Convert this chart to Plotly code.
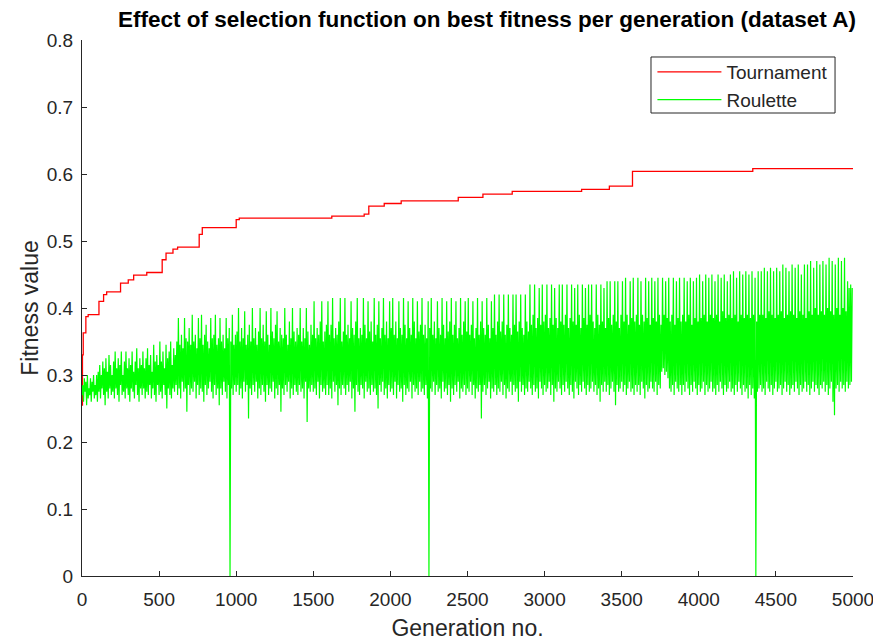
import plotly.graph_objects as go

# ---------------- data ----------------
tournament_gen = [0, 3, 8, 25, 40, 110, 140, 160, 250, 300, 335, 420, 520, 545, 590, 620,
                  760, 780, 1000, 1020, 1620, 1830, 1860, 1960, 2070, 2440, 2600, 2790,
                  3240, 3420, 3570, 4350, 5000]
tournament_fit = [0.255, 0.33, 0.363, 0.387, 0.39, 0.41, 0.42, 0.424, 0.437, 0.442, 0.449,
                  0.453, 0.472, 0.482, 0.488, 0.491, 0.51, 0.52, 0.532, 0.534, 0.537, 0.54,
                  0.552, 0.556, 0.56, 0.565, 0.57, 0.574, 0.577, 0.582, 0.604, 0.608, 0.608]

roulette_step = 5  # one sample every 5 generations
roulette_fit = [
    0.27,0.285,0.26,0.295,0.275,0.29,0.255,0.30,0.265,0.28,0.27,0.295,0.26,0.29,0.275,0.30,0.265,0.285,0.27,0.30,
    0.26,0.305,0.275,0.315,0.265,0.30,0.28,0.32,0.27,0.31,0.255,0.325,0.275,0.305,0.265,0.33,0.28,0.315,0.27,0.30,
    0.275,0.32,0.265,0.335,0.28,0.31,0.27,0.325,0.26,0.315,0.285,0.335,0.27,0.30,0.275,0.32,0.265,0.335,0.28,0.31,
    0.27,0.325,0.26,0.315,0.28,0.335,0.275,0.305,0.265,0.32,0.285,0.34,0.27,0.31,0.26,0.325,0.28,0.315,0.27,0.335,
    0.28,0.31,0.265,0.325,0.275,0.34,0.27,0.315,0.285,0.33,0.265,0.305,0.28,0.345,0.27,0.32,0.26,0.33,0.285,0.315,
    0.27,0.35,0.275,0.32,0.265,0.335,0.285,0.31,0.27,0.345,0.25,0.325,0.28,0.335,0.27,0.35,0.265,0.315,0.28,0.34,
    0.275,0.33,0.285,0.35,0.27,0.385,0.28,0.345,0.265,0.36,0.29,0.34,0.275,0.385,0.28,0.355,0.245,0.35,0.285,0.37,
    0.27,0.345,0.28,0.39,0.275,0.35,0.29,0.36,0.265,0.34,0.285,0.385,0.27,0.355,0.28,0.39,0.275,0.345,0.26,0.36,
    0.285,0.375,0.27,0.35,0.28,0.34,0.29,0.385,0.275,0.355,0.265,0.36,0.285,0.39,0.27,0.345,0.28,0.355,0.255,0.385,
    0.28,0.35,0.27,0.36,0.29,0.34,0.275,0.385,0.265,0.355,0.285,0.37,0.0,0.35,0.28,0.39,0.27,0.345,0.285,0.36,
    0.275,0.365,0.285,0.40,0.27,0.35,0.28,0.37,0.265,0.355,0.29,0.395,0.275,0.345,0.285,0.36,0.235,0.375,0.28,0.35,
    0.27,0.40,0.285,0.355,0.275,0.37,0.29,0.345,0.265,0.365,0.28,0.40,0.27,0.355,0.285,0.375,0.275,0.35,0.26,0.395,
    0.285,0.36,0.27,0.345,0.28,0.40,0.275,0.365,0.29,0.355,0.265,0.375,0.28,0.395,0.27,0.35,0.285,0.37,0.245,0.36,
    0.28,0.355,0.27,0.40,0.285,0.36,0.275,0.345,0.29,0.38,0.265,0.355,0.28,0.40,0.27,0.365,0.285,0.35,0.275,0.37,
    0.27,0.36,0.285,0.40,0.275,0.35,0.28,0.37,0.265,0.355,0.29,0.40,0.23,0.365,0.28,0.345,0.275,0.375,0.285,0.36,
    0.275,0.41,0.28,0.355,0.27,0.37,0.29,0.36,0.265,0.38,0.285,0.41,0.275,0.35,0.28,0.365,0.27,0.375,0.285,0.41,
    0.27,0.36,0.28,0.375,0.265,0.415,0.29,0.355,0.275,0.37,0.285,0.36,0.255,0.38,0.28,0.415,0.27,0.35,0.285,0.365,
    0.28,0.415,0.27,0.36,0.285,0.375,0.275,0.355,0.29,0.41,0.265,0.37,0.28,0.36,0.245,0.38,0.285,0.415,0.275,0.355,
    0.27,0.37,0.285,0.36,0.28,0.415,0.265,0.375,0.29,0.355,0.275,0.41,0.28,0.365,0.27,0.38,0.285,0.35,0.275,0.415,
    0.28,0.36,0.27,0.375,0.25,0.41,0.285,0.355,0.275,0.37,0.29,0.415,0.27,0.36,0.28,0.38,0.265,0.355,0.285,0.41,
    0.275,0.37,0.28,0.415,0.27,0.36,0.29,0.38,0.265,0.355,0.285,0.41,0.275,0.37,0.28,0.36,0.26,0.415,0.285,0.375,
    0.27,0.355,0.28,0.41,0.275,0.37,0.29,0.36,0.265,0.415,0.285,0.38,0.275,0.355,0.28,0.41,0.27,0.365,0.29,0.375,
    0.275,0.415,0.28,0.36,0.27,0.375,0.285,0.355,0.265,0.41,0.0,0.37,0.28,0.415,0.275,0.36,0.29,0.38,0.27,0.355,
    0.285,0.41,0.275,0.37,0.28,0.36,0.265,0.415,0.29,0.375,0.275,0.355,0.28,0.41,0.27,0.365,0.285,0.38,0.26,0.415,
    0.28,0.36,0.27,0.375,0.285,0.41,0.275,0.355,0.29,0.37,0.265,0.415,0.28,0.36,0.275,0.38,0.285,0.41,0.27,0.365,
    0.28,0.415,0.275,0.36,0.29,0.375,0.27,0.41,0.285,0.355,0.265,0.37,0.28,0.415,0.275,0.36,0.285,0.38,0.235,0.41,
    0.275,0.37,0.285,0.36,0.27,0.415,0.28,0.375,0.29,0.355,0.265,0.41,0.28,0.37,0.275,0.42,0.285,0.36,0.27,0.38,
    0.28,0.42,0.275,0.365,0.29,0.38,0.27,0.42,0.285,0.36,0.265,0.375,0.28,0.42,0.275,0.37,0.29,0.36,0.27,0.42,
    0.285,0.375,0.275,0.42,0.28,0.365,0.26,0.38,0.29,0.42,0.275,0.37,0.285,0.36,0.27,0.42,0.28,0.38,0.275,0.365,
    0.29,0.435,0.28,0.375,0.27,0.39,0.285,0.435,0.275,0.37,0.28,0.385,0.265,0.43,0.29,0.375,0.28,0.435,0.27,0.38,
    0.285,0.39,0.275,0.435,0.28,0.37,0.29,0.385,0.27,0.435,0.285,0.375,0.26,0.43,0.28,0.385,0.275,0.37,0.29,0.435,
    0.28,0.38,0.27,0.435,0.285,0.375,0.275,0.39,0.29,0.435,0.28,0.37,0.27,0.385,0.285,0.435,0.275,0.38,0.265,0.43,
    0.29,0.375,0.28,0.435,0.27,0.39,0.285,0.37,0.275,0.435,0.29,0.385,0.28,0.43,0.27,0.375,0.285,0.435,0.275,0.39,
    0.28,0.435,0.29,0.38,0.275,0.37,0.285,0.435,0.27,0.39,0.28,0.375,0.26,0.435,0.285,0.38,0.275,0.43,0.29,0.37,
    0.275,0.44,0.285,0.385,0.27,0.44,0.28,0.375,0.29,0.39,0.275,0.44,0.255,0.38,0.285,0.44,0.275,0.37,0.28,0.39,
    0.29,0.44,0.275,0.38,0.285,0.445,0.27,0.39,0.28,0.375,0.29,0.44,0.275,0.385,0.28,0.445,0.27,0.38,0.285,0.39,
    0.275,0.445,0.285,0.375,0.27,0.44,0.29,0.39,0.28,0.38,0.265,0.445,0.285,0.385,0.275,0.44,0.28,0.375,0.29,0.445,
    0.28,0.385,0.275,0.44,0.29,0.38,0.27,0.445,0.285,0.39,0.28,0.375,0.305,0.445,0.31,0.39,0.30,0.44,0.305,0.385,
    0.295,0.445,0.28,0.38,0.275,0.39,0.285,0.445,0.27,0.375,0.29,0.44,0.28,0.385,0.275,0.445,0.285,0.38,0.27,0.39,
    0.285,0.445,0.275,0.38,0.29,0.44,0.28,0.39,0.27,0.445,0.285,0.375,0.275,0.44,0.29,0.385,0.28,0.445,0.27,0.38,
    0.285,0.45,0.275,0.385,0.28,0.44,0.29,0.39,0.27,0.45,0.285,0.38,0.275,0.445,0.28,0.39,0.29,0.45,0.275,0.385,
    0.28,0.44,0.27,0.39,0.285,0.45,0.275,0.38,0.29,0.445,0.28,0.395,0.27,0.45,0.285,0.385,0.275,0.44,0.28,0.39,
    0.29,0.45,0.275,0.385,0.28,0.455,0.27,0.39,0.285,0.445,0.275,0.38,0.29,0.455,0.28,0.39,0.27,0.45,0.285,0.385,
    0.275,0.455,0.28,0.39,0.265,0.45,0.285,0.385,0.27,0.455,0.28,0.39,0.265,0.445,0.0,0.38,0.275,0.455,0.28,0.39,
    0.285,0.455,0.275,0.39,0.28,0.46,0.27,0.385,0.29,0.455,0.28,0.395,0.275,0.46,0.285,0.39,0.27,0.455,0.28,0.385,
    0.29,0.46,0.275,0.39,0.28,0.455,0.285,0.395,0.27,0.465,0.28,0.385,0.29,0.46,0.275,0.39,0.285,0.455,0.27,0.395,
    0.28,0.465,0.285,0.39,0.275,0.46,0.29,0.385,0.28,0.465,0.27,0.395,0.285,0.45,0.275,0.39,0.28,0.465,0.29,0.385,
    0.275,0.465,0.285,0.395,0.27,0.47,0.28,0.39,0.29,0.46,0.275,0.40,0.285,0.47,0.28,0.39,0.27,0.465,0.285,0.395,
    0.28,0.47,0.29,0.39,0.275,0.465,0.285,0.40,0.27,0.475,0.28,0.395,0.29,0.47,0.26,0.39,0.24,0.465,0.28,0.40,
    0.285,0.475,0.275,0.39,0.29,0.47,0.28,0.40,0.285,0.475,0.275,0.395,0.29,0.44,0.28,0.43,0.285,0.435,0.29,0.43,
]
roulette_gen = [i * roulette_step for i in range(len(roulette_fit))]

x_ticks = [0, 500, 1000, 1500, 2000, 2500, 3000, 3500, 4000, 4500, 5000]
y_ticks = [0, 0.1, 0.2, 0.3, 0.4, 0.5, 0.6, 0.7, 0.8]
y_tick_labels = ["0", "0.1", "0.2", "0.3", "0.4", "0.5", "0.6", "0.7", "0.8"]

# ---------------- figure ----------------
AX = "#262626"
FONT = "Liberation Sans, Arial, sans-serif"
W, H = 873, 634  # page body has an 8px margin

fig = go.Figure()
fig.add_trace(go.Scatter(x=tournament_gen, y=tournament_fit, mode="lines", name="Tournament",
                         line=dict(color="#FF0000", width=1.3, shape="hv")))
fig.add_trace(go.Scatter(x=roulette_gen, y=roulette_fit, mode="lines", name="Roulette",
                         line=dict(color="#00FF00", width=1.2)))

# legend frame (MATLAB-style box)
fig.add_shape(type="rect", xref="paper", yref="paper",
              x0=0.738, x1=0.9767, y0=0.8638, y1=0.9683,
              line=dict(color=AX, width=1), fillcolor="white", layer="above")

fig.update_layout(
    width=W, height=H,
    margin=dict(l=74, r=28, t=32, b=66),
    paper_bgcolor="white", plot_bgcolor="white",
    font=dict(family=FONT, size=19, color=AX),
    title=dict(text="<b>Effect of selection function on best fitness per generation (dataset A)</b>",
               x=479 / W, xref="container", xanchor="center",
               y=1 - 11 / H, yref="container", yanchor="middle",
               font=dict(family=FONT, size=22.5, color="#000000")),
    showlegend=True,
    legend=dict(x=0.9746, y=0.9757, xanchor="right", yanchor="top",
                bgcolor="rgba(0,0,0,0)", borderwidth=0,
                font=dict(family=FONT, size=19, color=AX),
                itemwidth=64, tracegroupgap=0),
)
fig.update_xaxes(range=[0, 5000], tickvals=x_ticks, ticks="inside", ticklen=5,
                 tickcolor=AX, showline=True, linecolor=AX, linewidth=1, automargin=False,
                 showgrid=False, zeroline=False, tickfont=dict(size=19, color=AX),
                 ticklabelstandoff=6,
                 title=dict(text="Generation no.", font=dict(size=23, color=AX), standoff=11))
fig.update_yaxes(range=[0, 0.8], tickvals=y_ticks, ticktext=y_tick_labels, ticks="inside",
                 ticklen=5, tickcolor=AX, showline=True, linecolor=AX, linewidth=1, automargin=False,
                 showgrid=False, zeroline=False, tickfont=dict(size=19, color=AX),
                 ticklabelstandoff=4,
                 title=dict(text="Fitness value", font=dict(size=23, color=AX), standoff=1))

fig.write_html("out.html")
